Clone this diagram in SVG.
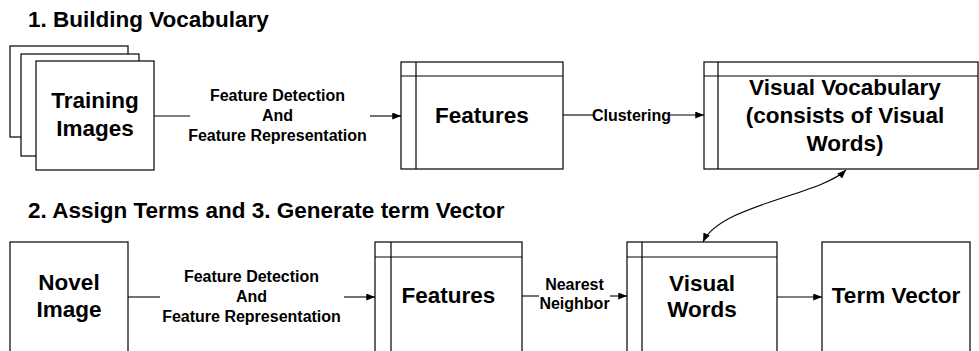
<svg xmlns="http://www.w3.org/2000/svg" width="979" height="351" viewBox="0 0 979 351">
  <defs>
    <style>
      .box { fill: #ffffff; stroke: #000000; stroke-width: 1.2; }
      .div { fill: none; stroke: #000000; stroke-width: 1.2; }
      .edge { fill: none; stroke: #000000; stroke-width: 1.1; }
      .big { font-family: "Liberation Sans", Arial, sans-serif; font-weight: bold; font-size: 22.5px; fill: #000000; text-anchor: middle; }
      .title { font-family: "Liberation Sans", Arial, sans-serif; font-weight: bold; font-size: 22.5px; fill: #000000; }
      .lbl { font-family: "Liberation Sans", Arial, sans-serif; font-weight: bold; font-size: 16px; fill: #000000; text-anchor: middle; }
    </style>
    <marker id="arrow" viewBox="0 0 10 8" refX="10" refY="4" markerWidth="9" markerHeight="7" markerUnits="userSpaceOnUse" orient="auto-start-reverse">
      <path d="M0,0 L10,4 L0,8 Z" fill="#000000"/>
    </marker>
  </defs>

  <rect width="979" height="351" fill="#ffffff"/>

  <!-- section headings -->
  <text class="title" x="28" y="27">1. Building Vocabulary</text>
  <text class="title" x="28" y="218">2. Assign Terms and 3. Generate term Vector</text>

  <!-- stack of training images -->
  <g id="training-images">
    <rect class="box" x="10" y="46" width="118" height="91"/>
    <rect class="box" x="21" y="54" width="118" height="102"/>
    <rect class="box" x="36" y="61" width="118" height="109"/>
    <text class="big" x="95" y="108">Training</text>
    <text class="big" x="95" y="136">Images</text>
  </g>

  <g id="features-top">
    <rect class="box" x="401" y="62" width="162" height="107"/>
    <line class="div" x1="416" y1="62" x2="416" y2="169"/>
    <line class="div" x1="401" y1="76" x2="563" y2="76"/>
    <text class="big" x="482" y="123">Features</text>
  </g>

  <g id="visual-vocabulary">
    <rect class="box" x="704" y="62" width="274" height="107"/>
    <line class="div" x1="718" y1="62" x2="718" y2="169"/>
    <line class="div" x1="704" y1="76" x2="978" y2="76"/>
    <text class="big" x="845" y="95">Visual Vocabulary</text>
    <text class="big" x="845" y="123">(consists of Visual</text>
    <text class="big" x="845" y="151">Words)</text>
  </g>

  <g id="novel-image">
    <rect class="box" x="10" y="242" width="118" height="120"/>
    <text class="big" x="69" y="290">Novel</text>
    <text class="big" x="69" y="317">Image</text>
  </g>

  <g id="features-bottom">
    <rect class="box" x="375" y="242" width="147" height="120"/>
    <line class="div" x1="391" y1="242" x2="391" y2="362"/>
    <line class="div" x1="375" y1="257" x2="522" y2="257"/>
    <text class="big" x="448.5" y="303">Features</text>
  </g>

  <g id="visual-words">
    <rect class="box" x="627" y="242" width="150" height="120"/>
    <line class="div" x1="642" y1="242" x2="642" y2="362"/>
    <line class="div" x1="627" y1="257" x2="777" y2="257"/>
    <text class="big" x="702" y="291">Visual</text>
    <text class="big" x="702" y="317">Words</text>
  </g>

  <g id="term-vector">
    <rect class="box" x="822" y="242" width="148" height="120"/>
    <text class="big" x="896" y="303">Term Vector</text>
  </g>

  <!-- connectors -->
  <g id="connectors">
    <line class="edge" x1="154" y1="116" x2="190" y2="116"/>
    <line class="edge" x1="370" y1="116" x2="401" y2="116" marker-end="url(#arrow)"/>
    <text class="lbl" x="277.5" y="101">Feature Detection</text>
    <text class="lbl" x="277.5" y="121">And</text>
    <text class="lbl" x="277.5" y="141">Feature Representation</text>

    <line class="edge" x1="563" y1="115" x2="593" y2="115"/>
    <line class="edge" x1="670" y1="115" x2="704" y2="115" marker-end="url(#arrow)"/>
    <text class="lbl" x="631.5" y="121">Clustering</text>

    <path class="edge" d="M846,170 C820,195 720,205 703,242" marker-start="url(#arrow)" marker-end="url(#arrow)"/>

    <line class="edge" x1="128" y1="297" x2="160" y2="297"/>
    <line class="edge" x1="344" y1="297" x2="375" y2="297" marker-end="url(#arrow)"/>
    <text class="lbl" x="251.5" y="282">Feature Detection</text>
    <text class="lbl" x="251.5" y="302">And</text>
    <text class="lbl" x="251.5" y="322">Feature Representation</text>

    <line class="edge" x1="522" y1="296" x2="539" y2="296"/>
    <line class="edge" x1="610" y1="296" x2="627" y2="296" marker-end="url(#arrow)"/>
    <text class="lbl" x="574.5" y="290">Nearest</text>
    <text class="lbl" x="574.5" y="309">Neighbor</text>

    <line class="edge" x1="777" y1="297" x2="822" y2="297" marker-end="url(#arrow)"/>
  </g>
</svg>
